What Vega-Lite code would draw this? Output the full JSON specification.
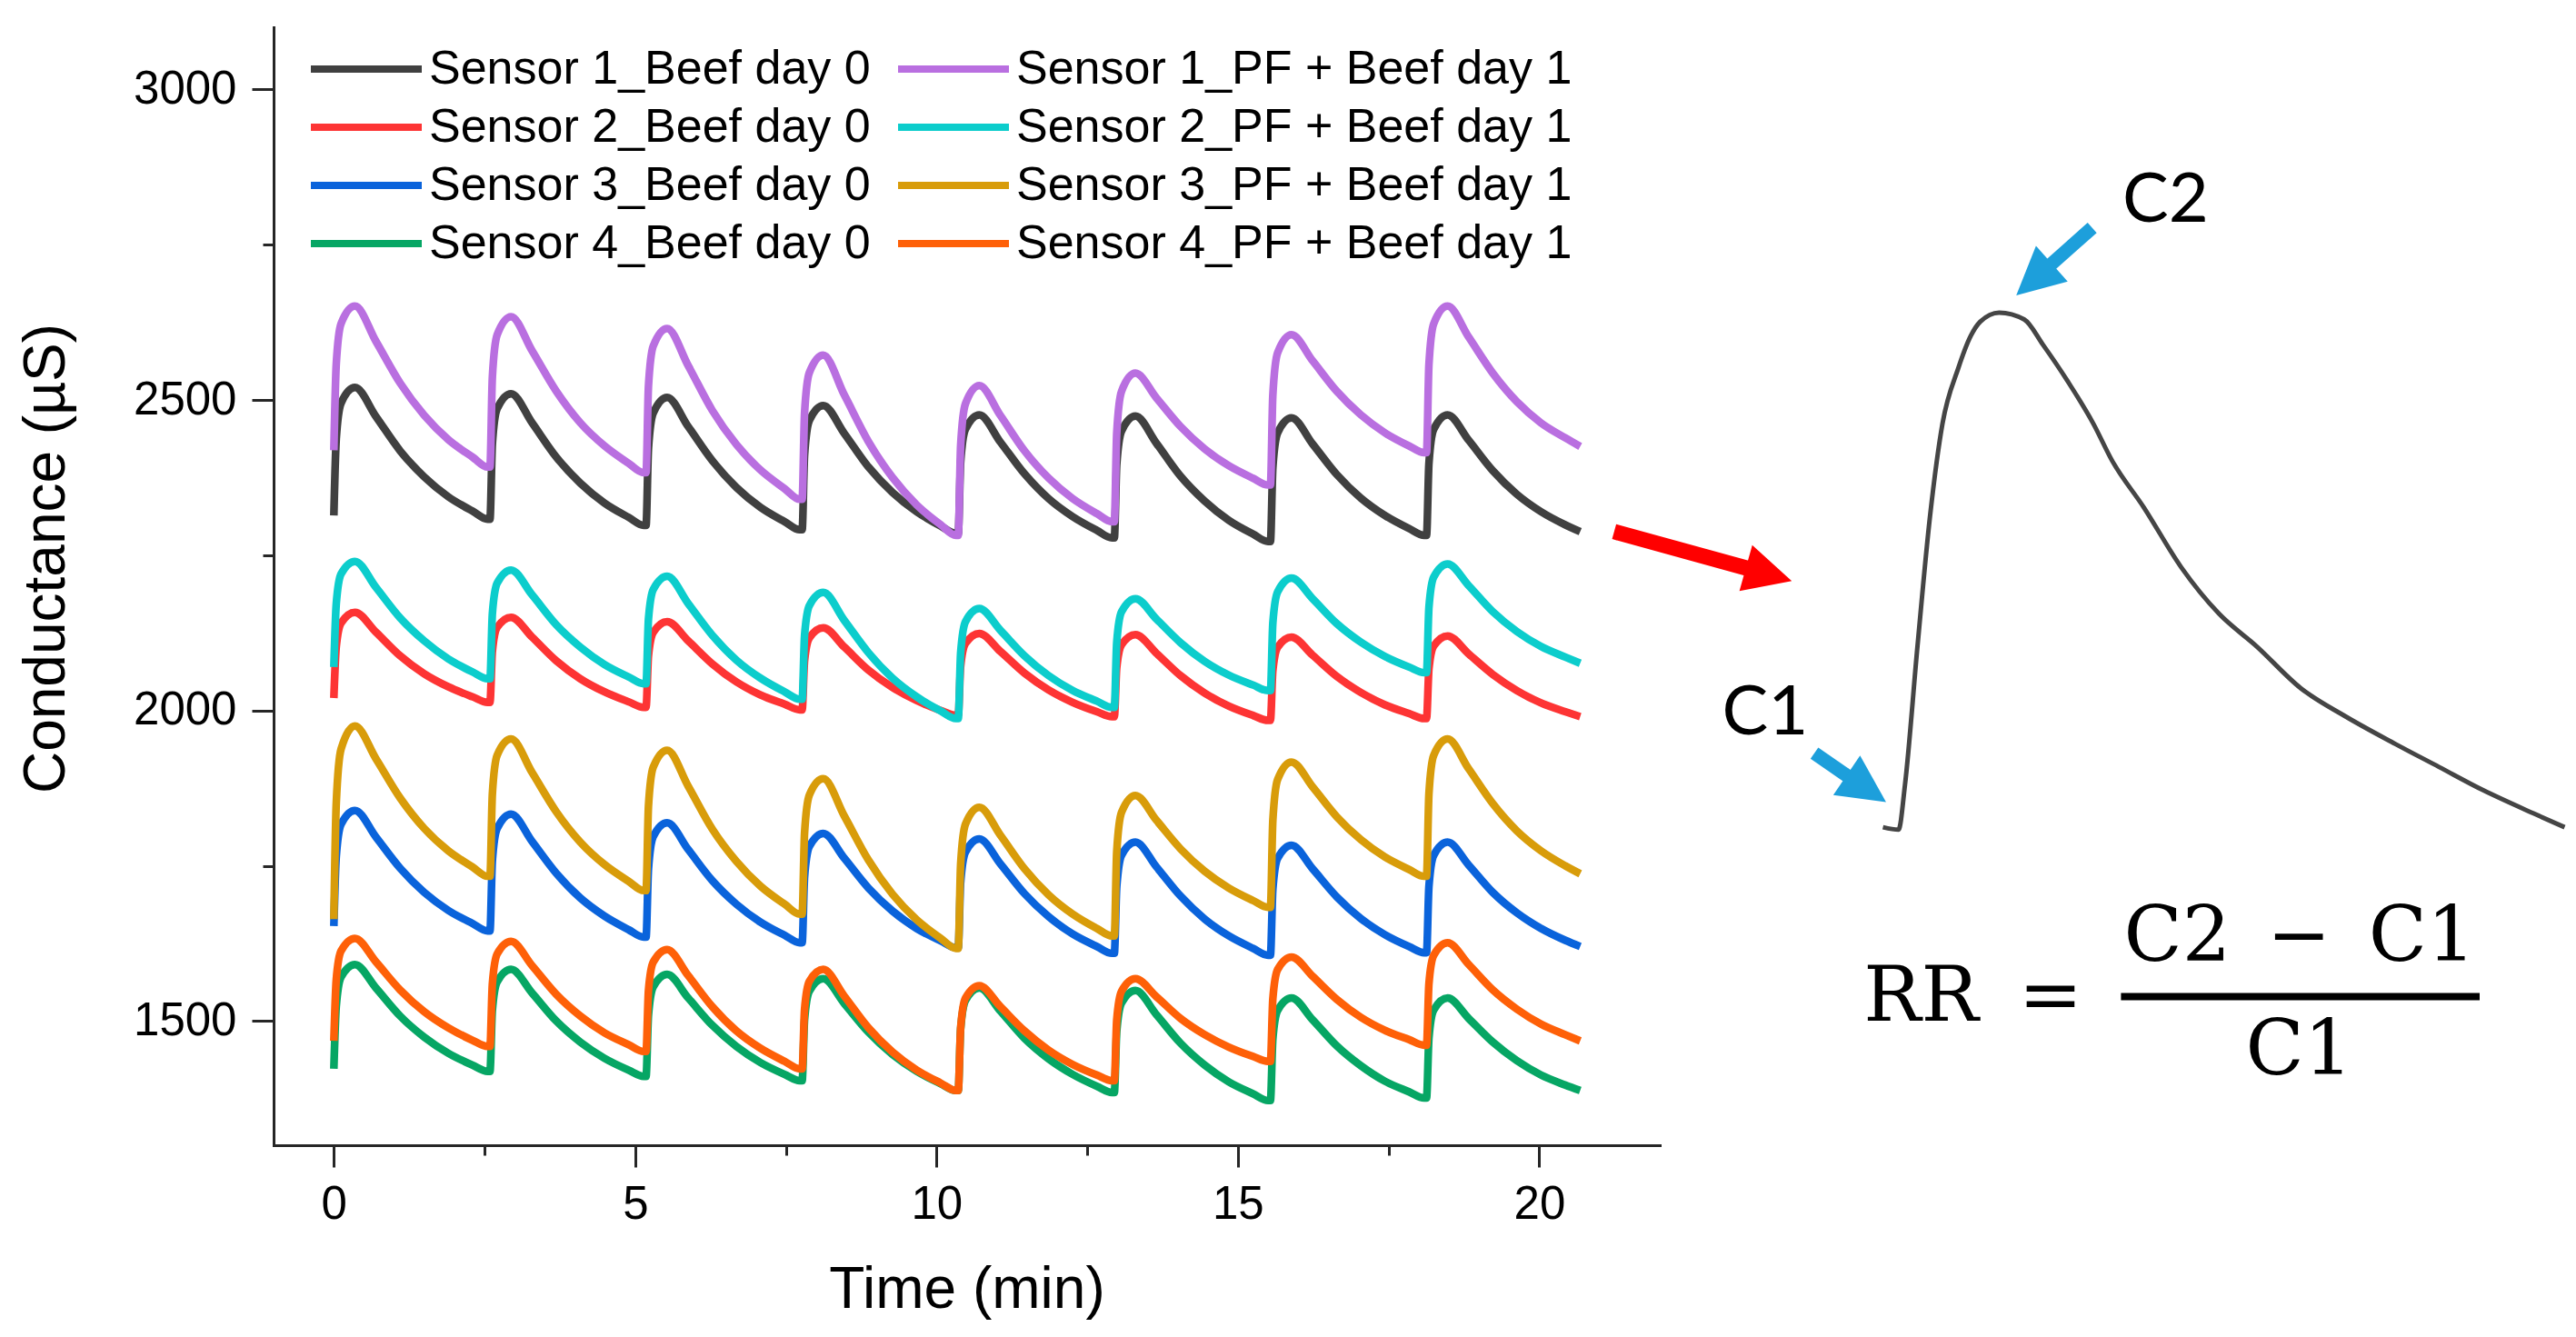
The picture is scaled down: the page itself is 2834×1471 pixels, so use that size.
{
  "$schema": "https://vega.github.io/schema/vega-lite/v6.json",
  "width": 1525,
  "height": 1230,
  "autosize": {"type": "none"},
  "padding": {"left": 301, "top": 30, "right": 1008, "bottom": 211},
  "background": "white",
  "config": {"view": {"stroke": null}},
  "datasets": {
    "raw": [
      {"t":0,"a":2314,"b":2419,"c":2020,"d":2070,"e":1653,"f":1664,"g":1423,"h":1468},
      {"t":0.04,"a":2438,"b":2558,"c":2103,"d":2172,"e":1765,"f":1851,"g":1524,"h":1567},
      {"t":0.12,"a":2495,"b":2623,"c":2141,"d":2220,"e":1817,"f":1938,"g":1571,"h":1613},
      {"t":0.35,"a":2520,"b":2651,"c":2158,"d":2240,"e":1839,"f":1975,"g":1591,"h":1633},
      {"t":0.7,"a":2473,"b":2594,"c":2126,"d":2198,"e":1796,"f":1922,"g":1553,"h":1595},
      {"t":1.1,"a":2418,"b":2527,"c":2088,"d":2149,"e":1746,"f":1859,"g":1508,"h":1550},
      {"t":1.5,"a":2376,"b":2475,"c":2059,"d":2112,"e":1707,"f":1810,"g":1474,"h":1515},
      {"t":1.9,"a":2344,"b":2436,"c":2038,"d":2083,"e":1678,"f":1774,"g":1448,"h":1489},
      {"t":2.3,"a":2321,"b":2408,"c":2022,"d":2062,"e":1657,"f":1748,"g":1429,"h":1469},
      {"t":2.55,"a":2308,"b":2392,"c":2013,"d":2051,"e":1645,"f":1733,"g":1419,"h":1459},
      {"t":2.59,"a":2308,"b":2392,"c":2013,"d":2051,"e":1645,"f":1733,"g":1419,"h":1459},
      {"t":2.63,"a":2429,"b":2537,"c":2095,"d":2156,"e":1758,"f":1866,"g":1517,"h":1560},
      {"t":2.71,"a":2486,"b":2605,"c":2134,"d":2205,"e":1810,"f":1928,"g":1563,"h":1608},
      {"t":2.94,"a":2510,"b":2634,"c":2150,"d":2226,"e":1833,"f":1954,"g":1583,"h":1628},
      {"t":3.29,"a":2463,"b":2579,"c":2118,"d":2186,"e":1789,"f":1900,"g":1545,"h":1589},
      {"t":3.69,"a":2408,"b":2514,"c":2080,"d":2138,"e":1738,"f":1837,"g":1500,"h":1543},
      {"t":4.09,"a":2366,"b":2463,"c":2051,"d":2102,"e":1698,"f":1788,"g":1466,"h":1508},
      {"t":4.49,"a":2334,"b":2426,"c":2030,"d":2074,"e":1669,"f":1752,"g":1440,"h":1481},
      {"t":4.89,"a":2311,"b":2398,"c":2014,"d":2054,"e":1647,"f":1725,"g":1421,"h":1462},
      {"t":5.14,"a":2298,"b":2383,"c":2005,"d":2043,"e":1635,"f":1710,"g":1411,"h":1451},
      {"t":5.18,"a":2298,"b":2383,"c":2005,"d":2043,"e":1635,"f":1710,"g":1411,"h":1451},
      {"t":5.22,"a":2422,"b":2522,"c":2088,"d":2147,"e":1745,"f":1846,"g":1509,"h":1549},
      {"t":5.3,"a":2479,"b":2587,"c":2126,"d":2195,"e":1797,"f":1909,"g":1555,"h":1595},
      {"t":5.53,"a":2504,"b":2615,"c":2143,"d":2216,"e":1819,"f":1936,"g":1575,"h":1615},
      {"t":5.88,"a":2457,"b":2555,"c":2112,"d":2172,"e":1776,"f":1878,"g":1537,"h":1573},
      {"t":6.28,"a":2402,"b":2483,"c":2075,"d":2121,"e":1726,"f":1809,"g":1493,"h":1523},
      {"t":6.68,"a":2359,"b":2428,"c":2046,"d":2081,"e":1688,"f":1757,"g":1459,"h":1484},
      {"t":7.08,"a":2327,"b":2387,"c":2025,"d":2052,"e":1659,"f":1717,"g":1433,"h":1456},
      {"t":7.48,"a":2304,"b":2357,"c":2010,"d":2030,"e":1638,"f":1688,"g":1414,"h":1435},
      {"t":7.73,"a":2291,"b":2340,"c":2001,"d":2018,"e":1626,"f":1672,"g":1404,"h":1423},
      {"t":7.77,"a":2291,"b":2340,"c":2001,"d":2018,"e":1626,"f":1672,"g":1404,"h":1423},
      {"t":7.81,"a":2411,"b":2479,"c":2080,"d":2121,"e":1732,"f":1803,"g":1502,"h":1519},
      {"t":7.89,"a":2467,"b":2544,"c":2117,"d":2169,"e":1781,"f":1864,"g":1548,"h":1564},
      {"t":8.12,"a":2491,"b":2572,"c":2133,"d":2190,"e":1802,"f":1890,"g":1568,"h":1583},
      {"t":8.47,"a":2446,"b":2508,"c":2102,"d":2145,"e":1762,"f":1830,"g":1528,"h":1540},
      {"t":8.87,"a":2392,"b":2433,"c":2065,"d":2093,"e":1714,"f":1759,"g":1482,"h":1489},
      {"t":9.27,"a":2351,"b":2375,"c":2037,"d":2052,"e":1677,"f":1704,"g":1446,"h":1450},
      {"t":9.67,"a":2320,"b":2331,"c":2016,"d":2022,"e":1649,"f":1663,"g":1419,"h":1421},
      {"t":10.07,"a":2297,"b":2299,"c":2000,"d":1999,"e":1629,"f":1633,"g":1399,"h":1400},
      {"t":10.32,"a":2285,"b":2282,"c":1992,"d":1987,"e":1618,"f":1617,"g":1388,"h":1388},
      {"t":10.36,"a":2285,"b":2282,"c":1992,"d":1987,"e":1618,"f":1617,"g":1388,"h":1388},
      {"t":10.4,"a":2400,"b":2427,"c":2071,"d":2093,"e":1723,"f":1753,"g":1487,"h":1489},
      {"t":10.48,"a":2453,"b":2494,"c":2108,"d":2143,"e":1772,"f":1817,"g":1533,"h":1537},
      {"t":10.71,"a":2476,"b":2523,"c":2124,"d":2164,"e":1793,"f":1844,"g":1553,"h":1557},
      {"t":11.06,"a":2432,"b":2475,"c":2095,"d":2129,"e":1753,"f":1799,"g":1516,"h":1523},
      {"t":11.46,"a":2381,"b":2418,"c":2060,"d":2088,"e":1705,"f":1745,"g":1472,"h":1484},
      {"t":11.86,"a":2341,"b":2374,"c":2033,"d":2056,"e":1668,"f":1703,"g":1439,"h":1453},
      {"t":12.26,"a":2312,"b":2341,"c":2013,"d":2032,"e":1640,"f":1672,"g":1414,"h":1430},
      {"t":12.66,"a":2290,"b":2317,"c":1998,"d":2015,"e":1620,"f":1649,"g":1395,"h":1413},
      {"t":12.91,"a":2278,"b":2304,"c":1990,"d":2005,"e":1609,"f":1637,"g":1385,"h":1404},
      {"t":12.95,"a":2278,"b":2304,"c":1990,"d":2005,"e":1609,"f":1637,"g":1385,"h":1404},
      {"t":12.99,"a":2396,"b":2447,"c":2069,"d":2110,"e":1716,"f":1773,"g":1483,"h":1502},
      {"t":13.07,"a":2450,"b":2514,"c":2106,"d":2159,"e":1767,"f":1836,"g":1529,"h":1548},
      {"t":13.3,"a":2474,"b":2543,"c":2122,"d":2180,"e":1788,"f":1863,"g":1549,"h":1568},
      {"t":13.65,"a":2430,"b":2503,"c":2092,"d":2147,"e":1748,"f":1823,"g":1510,"h":1539},
      {"t":14.05,"a":2377,"b":2457,"c":2056,"d":2109,"e":1701,"f":1777,"g":1464,"h":1504},
      {"t":14.45,"a":2337,"b":2421,"c":2028,"d":2079,"e":1664,"f":1741,"g":1429,"h":1478},
      {"t":14.85,"a":2306,"b":2394,"c":2007,"d":2057,"e":1637,"f":1714,"g":1402,"h":1458},
      {"t":15.25,"a":2284,"b":2374,"c":1992,"d":2041,"e":1617,"f":1694,"g":1383,"h":1443},
      {"t":15.5,"a":2272,"b":2363,"c":1984,"d":2032,"e":1606,"f":1683,"g":1372,"h":1435},
      {"t":15.54,"a":2272,"b":2363,"c":1984,"d":2032,"e":1606,"f":1683,"g":1372,"h":1435},
      {"t":15.58,"a":2391,"b":2508,"c":2064,"d":2141,"e":1712,"f":1823,"g":1471,"h":1536},
      {"t":15.66,"a":2447,"b":2576,"c":2102,"d":2191,"e":1762,"f":1889,"g":1517,"h":1583},
      {"t":15.89,"a":2471,"b":2605,"c":2118,"d":2213,"e":1783,"f":1917,"g":1537,"h":1603},
      {"t":16.24,"a":2429,"b":2563,"c":2089,"d":2180,"e":1745,"f":1877,"g":1502,"h":1572},
      {"t":16.64,"a":2380,"b":2514,"c":2055,"d":2140,"e":1700,"f":1829,"g":1460,"h":1535},
      {"t":17.04,"a":2342,"b":2476,"c":2029,"d":2110,"e":1665,"f":1792,"g":1428,"h":1506},
      {"t":17.44,"a":2314,"b":2447,"c":2009,"d":2087,"e":1639,"f":1764,"g":1403,"h":1485},
      {"t":17.84,"a":2293,"b":2426,"c":1995,"d":2070,"e":1620,"f":1744,"g":1386,"h":1470},
      {"t":18.09,"a":2282,"b":2415,"c":1987,"d":2061,"e":1610,"f":1733,"g":1376,"h":1461},
      {"t":18.13,"a":2282,"b":2415,"c":1987,"d":2061,"e":1610,"f":1733,"g":1376,"h":1461},
      {"t":18.17,"a":2398,"b":2557,"c":2067,"d":2166,"e":1717,"f":1866,"g":1473,"h":1560},
      {"t":18.25,"a":2453,"b":2623,"c":2104,"d":2215,"e":1767,"f":1928,"g":1518,"h":1606},
      {"t":18.48,"a":2476,"b":2651,"c":2120,"d":2236,"e":1788,"f":1954,"g":1537,"h":1626},
      {"t":18.83,"a":2435,"b":2601,"c":2091,"d":2201,"e":1751,"f":1906,"g":1504,"h":1591},
      {"t":19.23,"a":2386,"b":2543,"c":2058,"d":2159,"e":1707,"f":1850,"g":1466,"h":1550},
      {"t":19.63,"a":2348,"b":2497,"c":2032,"d":2127,"e":1674,"f":1806,"g":1436,"h":1519},
      {"t":20.03,"a":2320,"b":2463,"c":2012,"d":2103,"e":1649,"f":1774,"g":1413,"h":1495},
      {"t":20.43,"a":2299,"b":2439,"c":1998,"d":2086,"e":1630,"f":1750,"g":1397,"h":1478},
      {"t":20.68,"a":2288,"b":2425,"c":1990,"d":2076,"e":1620,"f":1737,"g":1388,"h":1468}
    ],
    "series": [
      {"k":"a","series":"Sensor 1_Beef day 0","day":0},
      {"k":"b","series":"Sensor 1_PF + Beef day 1","day":1},
      {"k":"c","series":"Sensor 2_Beef day 0","day":0},
      {"k":"d","series":"Sensor 2_PF + Beef day 1","day":1},
      {"k":"e","series":"Sensor 3_Beef day 0","day":0},
      {"k":"f","series":"Sensor 3_PF + Beef day 1","day":1},
      {"k":"g","series":"Sensor 4_Beef day 0","day":0},
      {"k":"h","series":"Sensor 4_PF + Beef day 1","day":1}
    ],
    "peak": [
      {"t":-0.0598,"v":2309.0},{"t":0,"v":2308.0},{"t":0.0244,"v":2326.2},{"t":0.0724,"v":2383.2},
      {"t":0.1204,"v":2436.5},{"t":0.1681,"v":2474.5},{"t":0.2286,"v":2497.2},{"t":0.2766,"v":2510.5},
      {"t":0.3128,"v":2516.3},{"t":0.3852,"v":2520.0},{"t":0.4812,"v":2517.2},{"t":0.5536,"v":2506.7},
      {"t":0.6496,"v":2491.5},{"t":0.746,"v":2474.4},{"t":0.818,"v":2459.2},{"t":0.9384,"v":2440.2},
      {"t":1.0825,"v":2415.5},{"t":1.2269,"v":2396.5},{"t":1.3713,"v":2383.1},{"t":1.5397,"v":2366.0},
      {"t":1.7081,"v":2354.6},{"t":1.9005,"v":2343.2},{"t":2.0689,"v":2333.7},{"t":2.2373,"v":2324.2},
      {"t":2.4297,"v":2314.7},{"t":2.5497,"v":2309.0}
    ]
  },
  "layer": [
    {
      "data": {"name": "raw"},
      "transform": [
        {"fold": ["a","b","c","d","e","f","g","h"], "as": ["k","v"]},
        {"lookup": "k", "from": {"data": {"name": "series"}, "key": "k", "fields": ["series","day"]}}
      ],
      "encoding": {
        "x": {
          "field": "t", "type": "quantitative",
          "scale": {"domain": [-1, 22], "nice": false, "zero": false},
          "axis": {
            "title": "Time (min)",
            "values": [0, 2.5, 5, 7.5, 10, 12.5, 15, 17.5, 20],
            "labelExpr": "datum.value % 5 === 0 ? datum.label : ''",
            "tickSize": {"condition": {"test": "datum.value % 5 !== 0", "value": 11}, "value": 24},
            "grid": false, "labelFlush": false, "labelOverlap": false, "labelBound": false,
            "domainColor": "#262626", "domainWidth": 3, "domainCap": "square",
            "tickColor": "#262626", "tickWidth": 3,
            "labelFont": "Liberation Sans", "labelFontSize": 51, "labelColor": "#000000", "labelPadding": 16,
            "titleFont": "Liberation Sans", "titleFontSize": 64, "titleFontWeight": "normal", "titleColor": "#000000",
            "titleY": 178, "titleBaseline": "alphabetic"
          }
        },
        "y": {
          "field": "v", "type": "quantitative",
          "scale": {"domain": [1300, 3100], "nice": false, "zero": false},
          "axis": {
            "title": "Conductance (µS)",
            "values": [1500, 1750, 2000, 2250, 2500, 2750, 3000],
            "format": "d",
            "labelExpr": "datum.value % 500 === 0 ? datum.label : ''",
            "tickSize": {"condition": {"test": "datum.value % 500 !== 0", "value": 12}, "value": 24},
            "grid": false, "labelOverlap": false, "labelBound": false, "labelFlush": false,
            "domainColor": "#262626", "domainWidth": 3, "domainCap": "square",
            "tickColor": "#262626", "tickWidth": 3,
            "labelFont": "Liberation Sans", "labelFontSize": 51, "labelColor": "#000000", "labelPadding": 17,
            "titleFont": "Liberation Sans", "titleFontSize": 64, "titleFontWeight": "normal", "titleColor": "#000000",
            "titleX": -231, "titleY": 584, "titleBaseline": "alphabetic", "titleAngle": -90, "titleAlign": "center"
          }
        },
        "color": {
          "field": "series", "type": "nominal",
          "scale": {
            "domain": ["Sensor 1_Beef day 0","Sensor 2_Beef day 0","Sensor 3_Beef day 0","Sensor 4_Beef day 0","Sensor 1_PF + Beef day 1","Sensor 2_PF + Beef day 1","Sensor 3_PF + Beef day 1","Sensor 4_PF + Beef day 1"],
            "range": ["#404040","#fd3434","#0a63db","#06a664","#b96fe0","#0ccdcc","#d89c0a","#fe6008"]
          },
          "legend": {
            "title": null, "orient": "none", "legendX": 37, "legendY": 16,
            "columns": 2, "columnPadding": 26, "rowPadding": 4, "padding": 0, "clipHeight": 60,
            "symbolType": "stroke", "symbolSize": 14884, "symbolStrokeWidth": 8,
            "labelFont": "Liberation Sans", "labelFontSize": 52, "labelColor": "#000000",
            "labelOffset": 4, "labelLimit": 2000
          }
        }
      },
      "layer": [
        {"transform": [{"filter": "datum.day === 0"}], "mark": {"type": "line", "strokeWidth": 8.5, "interpolate": "monotone"}},
        {"transform": [{"filter": "datum.day === 1"}], "mark": {"type": "line", "strokeWidth": 8.5, "interpolate": "monotone"}}
      ]
    },
    {
      "encoding": {
        "x": {"field": "t", "type": "quantitative", "scale": {"domain": [-6.2203, -0.9141], "nice": false, "zero": false}, "axis": null},
        "y": {"field": "v", "type": "quantitative", "scale": {"domain": [2178.59, 2637.03], "nice": false, "zero": false}, "axis": null}
      },
      "layer": [
        {"data": {"name": "peak"}, "mark": {"type": "line", "color": "#454545", "strokeWidth": 5, "interpolate": "monotone", "clip": false}},
        {"data": {"values": [{"t": -1.0887, "v": 2430.2, "t2": -0.5696, "v2": 2414.9}]},
         "mark": {"type": "rule", "color": "#ff0000", "strokeWidth": 17, "strokeCap": "butt", "clip": false},
         "encoding": {"x2": {"field": "t2"}, "y2": {"field": "v2"}}},
        {"data": {"values": [{"t": -0.4967, "v": 2412.6}]},
         "mark": {"type": "point", "shape": "M1,0L-1,-1L-1,1Z", "filled": true, "color": "#ff0000", "opacity": 1, "strokeWidth": 0, "size": 2750, "angle": 15.6, "clip": false}},
        {"data": {"values": [{"t": 0.7411, "v": 2554.8, "t2": 0.5752, "v2": 2539.0}, {"t": -0.3222, "v": 2339.4, "t2": -0.1903, "v2": 2329.6}]},
         "mark": {"type": "rule", "color": "#1d9fdb", "strokeWidth": 15, "strokeCap": "butt", "clip": false},
         "encoding": {"x2": {"field": "t2"}, "y2": {"field": "v2"}}},
        {"data": {"values": [{"t": 0.5186, "v": 2533.6}]},
         "mark": {"type": "point", "shape": "M1,0L-1,-1L-1,1Z", "filled": true, "color": "#1d9fdb", "opacity": 1, "strokeWidth": 0, "size": 2750, "angle": 138.3, "clip": false}},
        {"data": {"values": [{"t": -0.1232, "v": 2324.8}]},
         "mark": {"type": "point", "shape": "M1,0L-1,-1L-1,1Z", "filled": true, "color": "#1d9fdb", "opacity": 1, "strokeWidth": 0, "size": 2750, "angle": 34.2, "clip": false}},
        {"data": {"values": [{"label": "C2", "t": 1.0223, "v": 2557.1}, {"label": "C1", "t": -0.5108, "v": 2347.0}]},
         "mark": {"type": "text", "font": "Lato", "fontSize": 76, "color": "#000000", "align": "center", "baseline": "alphabetic", "clip": false},
         "encoding": {"text": {"field": "label"}}},
        {"data": {"values": [
            {"label": "RR", "t": 0.0863, "v": 2229.5},
            {"label": "=", "t": 0.5818, "v": 2229.5},
            {"label": "C2", "t": 1.0672, "v": 2254.2},
            {"label": "−", "t": 1.533, "v": 2254.2},
            {"label": "C1", "t": 2.0035, "v": 2254.2},
            {"label": "C1", "t": 1.533, "v": 2207.6}]},
         "mark": {"type": "text", "font": "DejaVu Serif", "fontSize": 84, "color": "#000000", "align": "center", "baseline": "alphabetic", "clip": false},
         "encoding": {"text": {"field": "label"}}},
        {"data": {"values": [{"t": 0.8514, "v": 2239.5, "t2": 2.2244}]},
         "mark": {"type": "rule", "color": "#000000", "strokeWidth": 8, "strokeCap": "butt", "clip": false},
         "encoding": {"x2": {"field": "t2"}}}
      ]
    }
  ],
  "resolve": {"scale": {"x": "independent", "y": "independent"}}
}
